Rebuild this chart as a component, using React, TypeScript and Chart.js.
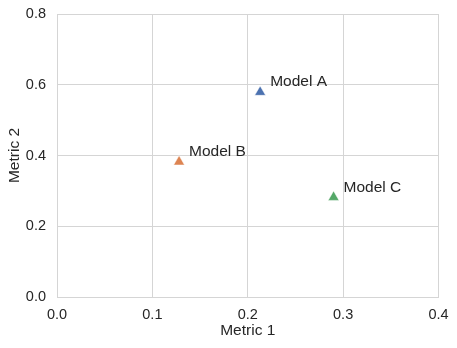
import React, { useEffect, useRef } from "react";
import { Chart, registerables } from "chart.js";

Chart.register(...registerables);

const modelNames = ["Model A", "Model B", "Model C"];
const metric1 = [0.213, 0.128, 0.29];
const metric2 = [0.579, 0.382, 0.282];
const modelColors = ["#4c72b0", "#dd8452", "#55a868"];
const xTicks = [0, 0.1, 0.2, 0.3, 0.4];
const yTicks = [0, 0.2, 0.4, 0.6, 0.8];

const FONT = "'Liberation Sans', Arial, Helvetica, sans-serif";

const labelPlugin = {
  id: "pointLabels",
  afterDatasetsDraw(chart: any) {
    const ctx = chart.ctx;
    const xs = chart.scales.x;
    const ys = chart.scales.y;
    ctx.save();
    ctx.font = `15.5px ${FONT}`;
    ctx.fillStyle = "#262626";
    ctx.textAlign = "left";
    ctx.textBaseline = "middle";
    modelNames.forEach((name, i) => {
      const px = xs.getPixelForValue(metric1[i]);
      const py = ys.getPixelForValue(metric2[i]);
      ctx.fillText(name, px + 10, py - 10);
    });
    ctx.restore();
  },
};

export default function App() {
  const ref = useRef<HTMLCanvasElement | null>(null);
  useEffect(() => {
    document.body.style.margin = "0";
    if (!ref.current) return;
    const chart = new Chart(ref.current, {
      type: "scatter",
      data: {
        datasets: [
          {
            data: metric1.map((x, i) => ({ x, y: metric2[i] })),
            pointStyle: "triangle",
            radius: 6.3,
            hoverRadius: 6.3,
            backgroundColor: modelColors,
            borderColor: "#ffffff",
            borderWidth: 0.5,
          },
        ],
      },
      options: {
        animation: false,
        responsive: false,
        layout: { padding: { top: 14, right: 18.5, left: 0, bottom: 0 } },
        plugins: { legend: { display: false }, tooltip: { enabled: false } },
        scales: {
          x: {
            type: "linear",
            min: 0,
            max: 0.4,
            afterBuildTicks: (s: any) => {
              s.ticks = xTicks.map((v) => ({ value: v }));
            },
            afterFit: (s: any) => {
              s.height = 51;
              s.paddingLeft = 0;
              s.paddingRight = 0;
            },
            grid: { color: "#d5d5d5", lineWidth: 1, drawTicks: false },
            border: { color: "#d5d5d5", width: 1 },
            ticks: {
              color: "#262626",
              padding: 9,
              font: { family: FONT, size: 14.5 },
              callback: (v: any) => Number(v).toFixed(1),
            },
            title: {
              display: true,
              text: "Metric 1",
              color: "#262626",
              font: { family: FONT, size: 15.5 },
              padding: { top: 0, bottom: 8 },
            },
          },
          y: {
            type: "linear",
            min: 0,
            max: 0.8,
            afterBuildTicks: (s: any) => {
              s.ticks = yTicks.map((v) => ({ value: v }));
            },
            afterFit: (s: any) => {
              s.width = 57;
              s.paddingTop = 0;
              s.paddingBottom = 0;
            },
            grid: { color: "#d5d5d5", lineWidth: 1, drawTicks: false },
            border: { color: "#d5d5d5", width: 1 },
            ticks: {
              color: "#262626",
              padding: 11,
              font: { family: FONT, size: 14.5 },
              callback: (v: any) => Number(v).toFixed(1),
            },
            title: {
              display: true,
              text: "Metric 2",
              color: "#262626",
              font: { family: FONT, size: 15.5 },
              padding: { top: 5, bottom: 0 },
            },
          },
        },
      },
      plugins: [labelPlugin],
    });
    return () => chart.destroy();
  }, []);
  return <canvas ref={ref} width={457} height={348} style={{ display: "block" }} />;
}
